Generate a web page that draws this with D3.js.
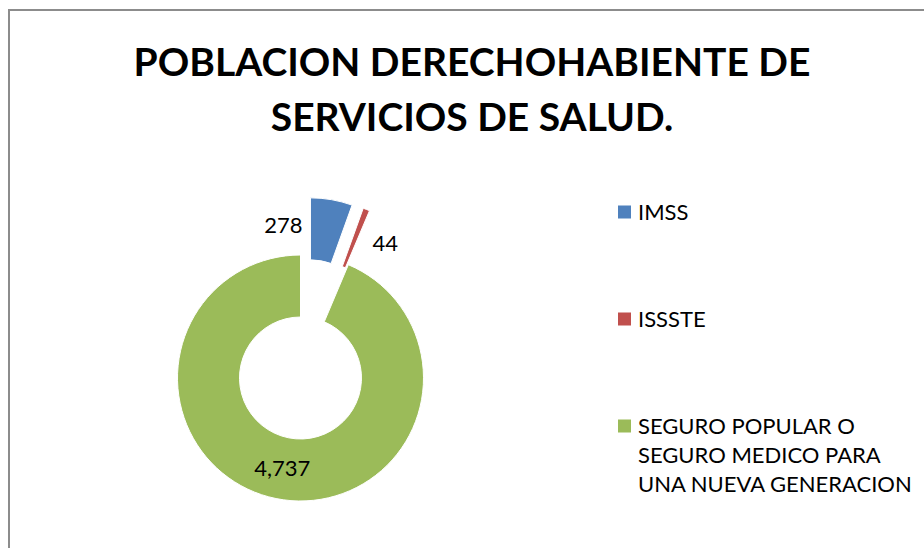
<!DOCTYPE html>
<html>
<head>
<meta charset="utf-8">
<script src="https://cdn.jsdelivr.net/npm/d3@7"></script>
<style>
  body { margin: 0; background: #fff; }
  text { font-family: Lato, "Open Sans", sans-serif; fill: #000; }
</style>
</head>
<body>
<div id="chart"></div>
<script>
// data
const categories = ["IMSS", "ISSSTE", "SEGURO POPULAR O SEGURO MEDICO PARA UNA NUEVA GENERACION"]
const legendLines = [["IMSS"], ["ISSSTE"], ["SEGURO POPULAR O", "SEGURO MEDICO PARA", "UNA NUEVA GENERACION"]]
const values = [278, 44, 4737]
const colors = ["#4F81BD", "#C0504D", "#9BBB59"]
const exploded = [true, true, false]
const titleLines = ["POBLACION DERECHOHABIENTE DE", "SERVICIOS DE SALUD."]

const width = 924, height = 548
const cx = 300.5, cy = 378
const outerR = 123, innerR = 61, explode = 58

const svg = d3.select("#chart").append("svg")
    .attr("width", width)
    .attr("height", height)

// chart border (only top and left visible in the crop)
svg.append("path")
    .attr("d", `M9,${height + 5} V10 H${width + 5}`)
    .attr("fill", "none")
    .attr("stroke", "#8c8c8c")
    .attr("stroke-width", 2)

// title
svg.append("text")
    .attr("x", 472)
    .attr("text-anchor", "middle")
    .style("font-weight", "bold")
    .style("font-size", "39px")
    .selectAll("tspan")
    .data(titleLines)
    .join("tspan")
        .attr("x", 472)
        .attr("y", (d, i) => 76 + i * 55)
        .text(d => d)

// donut
const pie = d3.pie().sort(null).value(d => d)
const arcs = pie(values)
const arcGen = d3.arc().innerRadius(innerR).outerRadius(outerR)

const g = svg.append("g").attr("transform", `translate(${cx},${cy})`)

function shift(d, i) {
    if (!exploded[i]) return [0, 0]
    const a = (d.startAngle + d.endAngle) / 2
    return [Math.sin(a) * explode, -Math.cos(a) * explode]
}

const slices = g.selectAll(".slice")
    .data(arcs)
    .join("path")
        .attr("class", "slice")
        .attr("d", arcGen)
        .attr("fill", (d, i) => colors[i])
        .attr("stroke", "#fff")
        .attr("stroke-width", 1)
        .attr("transform", (d, i) => `translate(${shift(d, i)})`)

// data labels: left of IMSS, right of ISSSTE, inside the big slice
const fmt = d3.format(",")
slices.each(function(d, i) {
    const [sx, sy] = shift(d, i)
    const box = this.getBBox()
    const c = arcGen.centroid(d)
    let x, y, anchor
    if (i === 0) { x = box.x + sx - 8; y = c[1] + sy - 5; anchor = "end" }
    else if (i === 1) { x = box.x + box.width + sx + 3; y = c[1] + sy + 5; anchor = "start" }
    else { x = c[0]; y = c[1]; anchor = "middle" }
    g.append("text")
        .attr("x", x)
        .attr("y", y)
        .attr("dy", "0.35em")
        .attr("text-anchor", anchor)
        .style("font-size", "22px")
        .text(fmt(d.data))
})

// legend
const rowY = [212, 319, 426]
const legend = svg.append("g")
    .selectAll("g")
    .data(categories)
    .join("g")
        .attr("transform", (d, i) => `translate(618,${rowY[i]})`)

legend.append("rect")
    .attr("x", 0)
    .attr("y", -6.5)
    .attr("width", 13)
    .attr("height", 13)
    .attr("fill", (d, i) => colors[i])

legend.append("text")
    .style("font-size", "22px")
    .selectAll("tspan")
    .data((d, i) => legendLines[i])
    .join("tspan")
        .attr("x", 20)
        .attr("y", (d, i) => i * 29)
        .attr("dy", "0.35em")
        .text(d => d)
</script>
</body>
</html>
